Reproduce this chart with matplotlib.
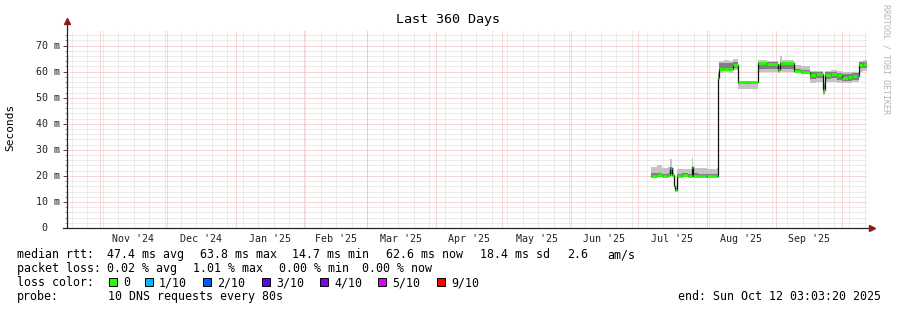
import numpy as np
import matplotlib
matplotlib.use("Agg")
import matplotlib.pyplot as plt
from matplotlib.patches import Rectangle
from matplotlib import transforms

W, H = 897, 310
MONO = "DejaVu Sans Mono"

# time range of the graph
t_start = np.datetime64("2024-10-17T03:03")
t_end = np.datetime64("2025-10-12T03:03")

# median rtt (ms) and smoke (ping spread), step values
times = np.array([
    "2025-07-07T00:00", "2025-07-09T12:00", "2025-07-12T00:00", "2025-07-14T12:00",
    "2025-07-15T12:00", "2025-07-16T12:00", "2025-07-17T06:00", "2025-07-17T18:00",
    "2025-07-18T18:00", "2025-07-21T00:00", "2025-07-23T12:00", "2025-07-25T06:00",
    "2025-07-25T18:00", "2025-07-28T00:00", "2025-07-31T12:00", "2025-08-01T00:00",
    "2025-08-05T12:00", "2025-08-06T00:00", "2025-08-06T04:00", "2025-08-06T16:00",
    "2025-08-09T00:00", "2025-08-11T00:00", "2025-08-12T20:00", "2025-08-15T02:00",
    "2025-08-19T00:00", "2025-08-24T00:00", "2025-08-28T00:00", "2025-09-02T00:00",
    "2025-09-03T00:00", "2025-09-04T00:00", "2025-09-09T12:00", "2025-09-12T12:00",
    "2025-09-16T10:00", "2025-09-19T00:00", "2025-09-22T04:00", "2025-09-23T04:00",
    "2025-09-26T00:00", "2025-09-28T12:00", "2025-10-01T00:00", "2025-10-03T12:00",
    "2025-10-05T12:00", "2025-10-07T18:00", "2025-10-08T08:00", "2025-10-10T12:00",
    "2025-10-11T22:00",
], dtype="datetime64[m]")
median = np.array([
    20.1, 20.3, 20.0, 20.4, 23.0, 20.2, 16.0, 14.7,
    20.0, 20.2, 20.0, 23.5, 20.1, 20.0, 20.0, 20.1,
    20.0, 20.0, 57.6, 61.0, 61.2, 61.0, 62.7, 56.0,
    55.9, 63.3, 63.0, 60.5, 63.2, 63.3, 60.1, 60.0,
    58.8, 59.0, 53.0, 58.8, 59.2, 58.6, 57.6, 57.8,
    58.2, 58.3, 62.7, 63.0, 63.0,
])
smoke_lo = np.array([
    19.7, 19.8, 19.7, 19.8, 20.0, 19.6, 15.5, 14.2,
    19.7, 19.7, 19.7, 20.0, 19.7, 19.7, 19.7, 19.7,
    19.7, 19.7, 57.0, 59.5, 59.8, 59.5, 60.5, 53.4,
    53.3, 60.0, 59.8, 59.5, 60.2, 60.0, 59.4, 59.3,
    55.8, 56.0, 51.0, 56.0, 56.2, 55.8, 55.5, 55.6,
    56.0, 56.0, 60.0, 60.2, 60.2,
])
smoke_hi = np.array([
    23.4, 24.0, 23.0, 23.5, 26.5, 23.0, 19.0, 16.5,
    22.5, 22.8, 22.6, 27.0, 23.2, 22.9, 23.0, 22.8,
    23.0, 23.0, 60.0, 64.0, 64.3, 64.0, 64.8, 56.4,
    56.3, 64.3, 64.0, 63.0, 66.0, 64.3, 62.5, 62.0,
    60.2, 60.3, 56.0, 60.3, 60.5, 60.2, 60.0, 60.0,
    60.0, 60.0, 64.2, 64.3, 64.3,
])
core_lo = np.array([
    20.0, 20.1, 19.9, 20.1, 20.8, 20.0, 15.8, 14.5,
    19.9, 20.0, 19.9, 20.8, 20.0, 19.9, 19.9, 20.0,
    19.9, 19.9, 57.3, 60.3, 60.5, 60.3, 61.5, 55.4,
    55.3, 61.2, 61.0, 60.0, 61.2, 61.0, 59.8, 59.7,
    57.2, 57.5, 52.0, 57.2, 57.5, 57.0, 56.5, 56.6,
    57.0, 57.0, 61.5, 61.6, 61.6,
])
core_hi = np.array([
    21.0, 21.2, 20.9, 21.1, 23.5, 21.0, 17.0, 15.3,
    20.9, 21.0, 20.9, 23.5, 21.0, 20.9, 20.9, 20.9,
    20.9, 20.9, 59.0, 63.3, 63.5, 63.2, 63.8, 56.2,
    56.1, 63.9, 63.6, 62.0, 63.8, 63.8, 61.0, 60.8,
    59.8, 60.0, 55.0, 59.8, 60.0, 59.6, 59.2, 59.3,
    59.5, 59.5, 63.8, 63.9, 63.9,
])
# lost pings out of 10 for each step
loss = np.array([
    0, 0, 0, 0, 1, 0, 0, 0,
    0, 0, 0, 0, 0, 0, 1, 0,
    1, 0, 0, 0, 0, 0, 0, 0,
    0, 0, 0, 0, 0, 0, 0, 0,
    0, 0, 0, 0, 0, 0, 0, 0,
    0, 1, 0, 0, 0,
])

loss_levels = [0, 1, 2, 3, 4, 5, 9]
loss_names = ["0", "1/10", "2/10", "3/10", "4/10", "5/10", "9/10"]
loss_colors = ["#26ff00", "#00b8ff", "#0059ff", "#5e00ff", "#7e00ff", "#dd00ff", "#ff0000"]

rtt_text = ["47.4 ms avg", "63.8 ms max", "14.7 ms min", "62.6 ms now", "18.4 ms sd", "2.6", "am/s"]
rtt_x = [107, 200, 292, 386, 480, 567, 607]
pl_text = ["0.02 % avg", "1.01 % max", "0.00 % min", "0.00 % now"]
pl_x = [107, 193, 279, 362]
swatch_x = [109, 145, 203, 262, 320, 378, 437]


def fx(x):
    return x / W


def fy(y):
    return 1 - y / H


fig = plt.figure(figsize=(W / 100, H / 100), dpi=100)
fig.patch.set_facecolor("white")
ax = fig.add_axes([fx(67), fy(228), 800 / W, 198 / H])
ax.set_xlim(t_start, t_end)
ax.set_ylim(0, 76)
for s in ax.spines.values():
    s.set_visible(False)

dot = (0, (1, 1))
# horizontal grid
for v in np.arange(2, 76, 2):
    col = "#f5b0b0" if v % 10 == 0 else "#d8d8d8"
    ax.axhline(v, color=col, lw=0.72, ls=dot, zorder=1 if v % 10 else 1.5)

# weekly grid, monthly grid
weeks = np.arange(np.datetime64("2024-10-19T06:00"), t_end, np.timedelta64(7, "D"))
for w in weeks:
    ax.axvline(w, color="#d8d8d8", lw=0.72, ls=dot, zorder=1)
months = np.arange(np.datetime64("2024-11"), np.datetime64("2025-11"), dtype="datetime64[M]")
month_starts = months.astype("datetime64[m]")
for m in month_starts:
    if m < t_end:
        ax.axvline(m, color="#f5b0b0", lw=0.72, ls=dot, zorder=1.5)

mids, mlabels = [], []
for a, b in zip(month_starts[:-1], month_starts[1:]):
    if b <= t_end:
        mids.append(a + (b - a) // 2)
        mlabels.append(a.astype(object).strftime("%b '%y"))
ax.set_xticks(mids)
ax.set_xticklabels(mlabels, fontsize=7.2, family=MONO, color="#222222")
ax.tick_params(axis="x", length=0, pad=4)

ax.set_yticks(np.arange(0, 71, 10))
ax.set_yticks(np.arange(0, 76, 2), minor=True)
ax.set_yticklabels([])
ax.tick_params(axis="y", which="major", length=3, color="#444444", width=0.7)
ax.tick_params(axis="y", which="minor", length=1.5, color="#888888", width=0.6)

ylab_tr = transforms.blended_transform_factory(fig.transFigure, ax.transData)
for v in range(0, 71, 10):
    lab = f"{v:2d} m" if v else " 0"
    ax.text(fx(36), v, lab, transform=ylab_tr, ha="left", va="center",
            fontsize=7.2, family=MONO, color="#222222")

# smoke
ax.fill_between(times, smoke_lo, smoke_hi, step="post", color="#c4c4c4", lw=0, zorder=2)
ax.fill_between(times, core_lo, core_hi, step="post", color="#808080", lw=0, zorder=2.1)

# median: black connecting line, then loss colored segments
ax.step(times, median, where="post", color="#111111", lw=0.9, zorder=3)
seg_cols = [loss_colors[loss_levels.index(l)] for l in loss[:-1]]
ax.hlines(median[:-1], times[:-1], times[1:], colors=seg_cols, lw=2.0, zorder=4)

# axes with arrows
ax.plot([0, 0], [0, 1.04], transform=ax.transAxes, color="#222222", lw=0.9, clip_on=False, zorder=5)
ax.plot([-0.005, 1.004], [0, 0], transform=ax.transAxes, color="#222222", lw=0.9, clip_on=False, zorder=5)
ax.plot([0], [1.045], marker="^", ms=4, color="#8b1a1a", transform=ax.transAxes, clip_on=False, zorder=6)
ax.plot([1.006], [0], marker=">", ms=4, color="#8b1a1a", transform=ax.transAxes, clip_on=False, zorder=6)

# titles
fig.text(fx(448), fy(19), "Last 360 Days", ha="center", va="center", fontsize=9.6, family=MONO)
fig.text(fx(10), fy(127), "Seconds", rotation=90, ha="center", va="center", fontsize=8, family=MONO)
fig.text(fx(886), fy(59), "RRDTOOL / TOBI OETIKER", rotation=270, ha="center", va="center",
         fontsize=6, family=MONO, color="#b4b4b4")

# legend
fs = 8.35
rows = [258, 272, 286, 300]
fig.text(fx(17), fy(rows[0]), "median rtt:", fontsize=fs, family=MONO, va="baseline")
for s, x in zip(rtt_text, rtt_x):
    fig.text(fx(x), fy(rows[0]), s, fontsize=fs, family=MONO, va="baseline")
fig.text(fx(17), fy(rows[1]), "packet loss:", fontsize=fs, family=MONO, va="baseline")
for s, x in zip(pl_text, pl_x):
    fig.text(fx(x), fy(rows[1]), s, fontsize=fs, family=MONO, va="baseline")
fig.text(fx(17), fy(rows[2]), "loss color:", fontsize=fs, family=MONO, va="baseline")
for name, col, x in zip(loss_names, loss_colors, swatch_x):
    fig.add_artist(Rectangle((fx(x), fy(286)), 8 / W, 8 / H, transform=fig.transFigure,
                             facecolor=col, edgecolor="black", lw=0.7))
    fig.text(fx(x + 14), fy(rows[2]), name, fontsize=fs, family=MONO, va="baseline")
fig.text(fx(17), fy(rows[3]), "probe:", fontsize=fs, family=MONO, va="baseline")
fig.text(fx(107.5), fy(rows[3]), "10 DNS requests every 80s", fontsize=fs, family=MONO, va="baseline")
fig.text(fx(881), fy(rows[3]), "end: Sun Oct 12 03:03:20 2025", fontsize=fs, family=MONO,
         va="baseline", ha="right")

fig.savefig("out.png", dpi=100)
